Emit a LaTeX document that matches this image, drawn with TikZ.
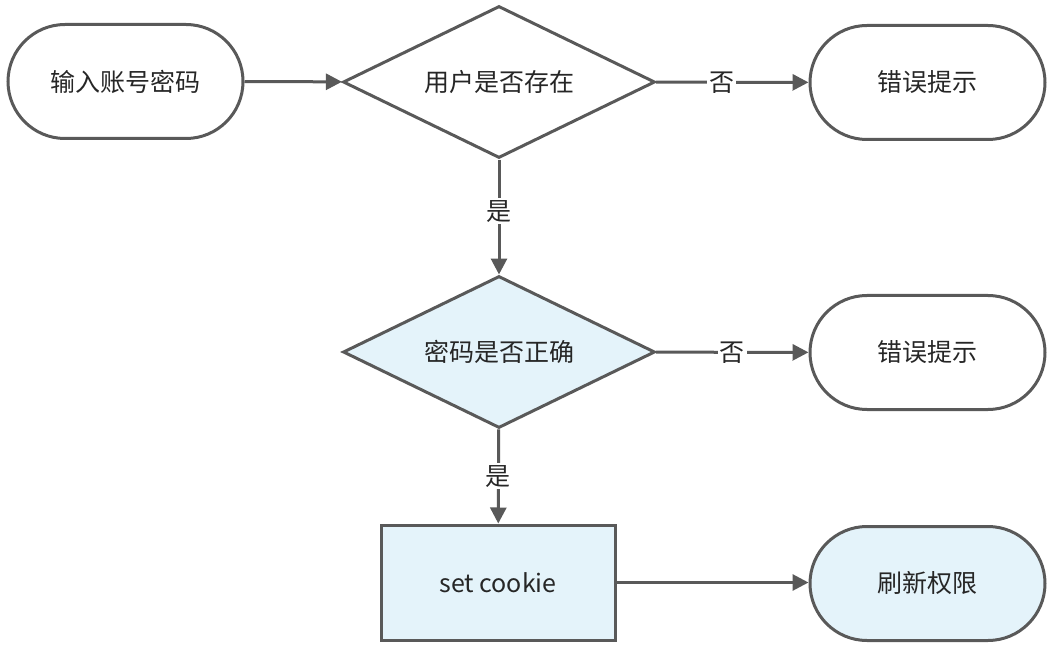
\documentclass[tikz,border=0pt]{standalone}
\usepackage{fontspec}
\setmainfont{Noto Sans CJK SC}
\usetikzlibrary{shapes.geometric,shapes.misc,arrows.meta}
\definecolor{ln}{HTML}{595959}
\definecolor{lb}{HTML}{E4F3FA}
\begin{document}
\begin{tikzpicture}[x=1pt,y=-1pt,
  base/.style={draw=ln,line width=3pt,font=\fontsize{25}{30}\selectfont,text=black!85},
  term/.style={base,rounded rectangle,minimum width=235pt,minimum height=114pt,inner sep=0pt},
  dec/.style={base,diamond,aspect=2.05,minimum width=312pt,minimum height=152pt,inner sep=0pt},
  proc/.style={base,rectangle,minimum width=234pt,minimum height=115pt},
  arr/.style={draw=ln,line width=3pt,-{Triangle[length=16pt,width=16pt]}},
  lab/.style={fill=white,font=\fontsize{25}{30}\selectfont,text=black!85,inner sep=2pt}]
\useasboundingbox (0,0) rectangle (1053,647);
\node[term] (in) at (125.5,81.5) {输入账号密码};
\node[dec] (d1) at (499,82) {用户是否存在};
\node[term] (e1) at (927.5,82.5) {错误提示};
\node[dec,fill=lb] (d2) at (499,352) {密码是否正确};
\node[term] (e2) at (927.5,352.5) {错误提示};
\node[proc,fill=lb] (sc) at (498,582.5) {set cookie};
\node[term,fill=lb] (r) at (927.5,583.5) {刷新权限};
\draw[arr] (in) -- (d1);
\draw[arr] (d1) -- node[lab,pos=0.43]{否} (e1);
\draw[arr] (d1) -- node[lab,pos=0.45]{是} (d2);
\draw[arr] (d2) -- node[lab]{否} (e2);
\draw[arr] (d2) -- node[lab,pos=0.5]{是} (sc);
\draw[arr] (sc.east) -- (r.west |- sc.east);
\end{tikzpicture}
\end{document}
